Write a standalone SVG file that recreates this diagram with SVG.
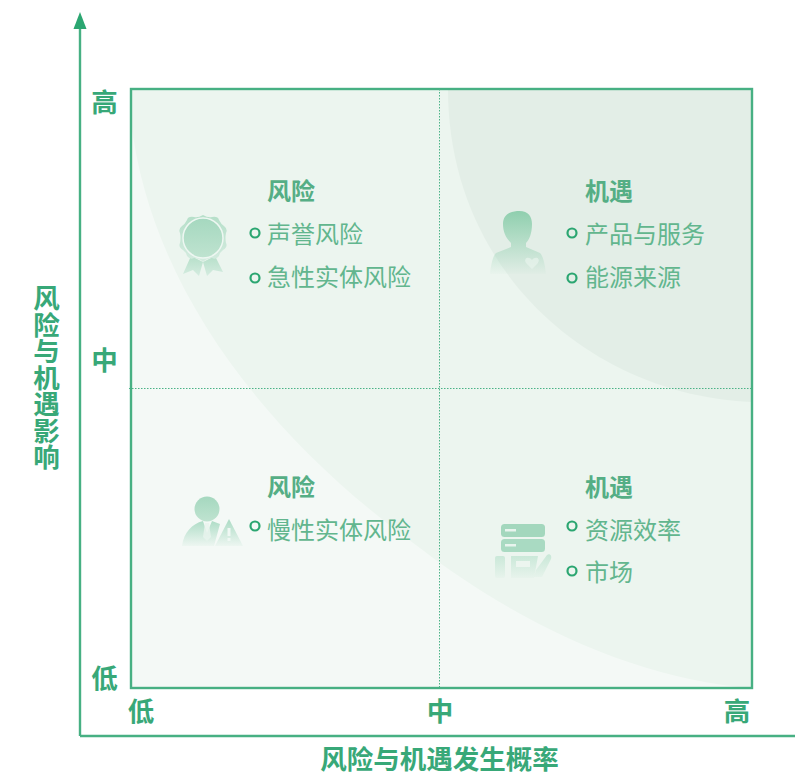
<svg xmlns="http://www.w3.org/2000/svg" width="795" height="777" viewBox="0 0 795 777">
<style>
text{font-family:"Noto Sans CJK SC","Noto Sans",sans-serif}
.ax{font-size:26.5px;font-weight:700;fill:#38a878;text-anchor:middle}
.h{font-size:24px;font-weight:700;fill:#55ae85}
.i{font-size:24px;fill:#62b68e}
.b{fill:none;stroke:#47b083;stroke-width:2.4}
.ln{fill:none;stroke:#47b083;stroke-width:2.4}
.d{fill:none;stroke:#4bb387;stroke-width:1;stroke-dasharray:1.5 1.5}
.o{fill:none;stroke:#2ba671;stroke-width:2.2}
</style>
<defs>
<linearGradient id="g" x1="0" y1="0" x2="0" y2="1"><stop offset="0" stop-color="#8fcfae"/><stop offset="1" stop-color="#8fcfae" stop-opacity="0.03"/></linearGradient>
<linearGradient id="p" gradientUnits="userSpaceOnUse" x1="0" y1="518" x2="0" y2="548"><stop offset="0" stop-color="#a8dac2"/><stop offset="1" stop-color="#a8dac2" stop-opacity="0.03"/></linearGradient>
<linearGradient id="f" gradientUnits="userSpaceOnUse" x1="0" y1="552" x2="0" y2="580"><stop offset="0" stop-color="#c5e6d5"/><stop offset="1" stop-color="#c5e6d5" stop-opacity="0.05"/></linearGradient>
<linearGradient id="m" x1="0" y1="0" x2="0" y2="1"><stop offset="0" stop-color="#a5d8bf"/><stop offset="1" stop-color="#bfe3d0"/></linearGradient>
<linearGradient id="r" x1="0" y1="0" x2="0" y2="1"><stop offset="0" stop-color="#b5dfc9"/><stop offset="1" stop-color="#d5ece0"/></linearGradient>
</defs>
<g id="matrix">
<rect x="131" y="89" width="621" height="599" fill="#f4f9f6"/>
<path d="M131 89H752V688C640 680 520 625 420 548C270 440 150 290 131 120Z" fill="#ecf5ef"/>
<path d="M448 89H752V402C590 395 448 270 448 89Z" fill="#e3eee7"/>
<rect x="131" y="89" width="621" height="599" class="b"/>
</g>
<g id="connectors">
<path d="M80 736V29" class="ln"/>
<path d="M80 12L86.500 29H73.500Z" fill="#2ba671"/>
<path d="M80 736H795" class="ln"/>
<path d="M439.500 89V688" class="d"/>
<path d="M129 388.500H752" class="d"/>
</g>
<g id="axis-y">
<text class="ax" x="104.500" y="112">高</text>
<text class="ax" x="104.500" y="370">中</text>
<text class="ax" x="104.500" y="688">低</text>
<text class="ax" x="46.500" y="285" style="writing-mode:vertical-rl;text-anchor:start">风险与机遇影响</text>
</g>
<g id="axis-x">
<text class="ax" x="141" y="721">低</text>
<text class="ax" x="440" y="721">中</text>
<text class="ax" x="737" y="721">高</text>
<text class="ax" x="439.500" y="769">风险与机遇发生概率</text>
</g>
<g id="q1">
<path d="M191 256L183 274L193 270L199 276L203 262ZM215 256L223 272L213 270L207 276L203 262Z" fill="url(#r)"/>
<path d="M203 215Q208 218 212 217Q218 216 219 220Q221 224 224 226Q228 229 226 233Q225 238 226 243Q228 247 223 250Q220 252 219 256Q216 260 212 258Q207 258 203 262Q199 258 194 258Q190 260 187 256Q186 252 183 250Q178 247 180 243Q181 238 180 233Q178 229 182 226Q185 224 187 220Q188 216 194 217Q198 218 203 215Z" fill="url(#r)"/>
<circle cx="203" cy="238" r="20" fill="url(#m)" stroke="#eef7f2" stroke-width="1.500"/>
<text class="h" x="267" y="200">风险</text>
<circle cx="255" cy="233" r="4.500" class="o"/>
<text class="i" x="267" y="243">声誉风险</text>
<circle cx="255" cy="278" r="4.500" class="o"/>
<text class="i" x="267" y="286">急性实体风险</text>
</g>
<g id="q2">
<path d="M517 211C528 210 532 216 532 224C532 234 529 240 526 243V247L540 253C543 256 545 264 546 274H490C491 264 493 256 496 253L511 247V243C506 238 503 232 503 224C503 216 508 212 517 211Z" fill="url(#g)"/>
<path d="M532 260C535 256 541 258 538 263L532 269L526 263C523 258 529 256 532 260Z" fill="#e8f3ed" opacity=".7"/>
<text class="h" x="585" y="200">机遇</text>
<circle cx="572" cy="233" r="4.500" class="o"/>
<text class="i" x="585" y="243">产品与服务</text>
<circle cx="572" cy="278" r="4.500" class="o"/>
<text class="i" x="585" y="286">能源来源</text>
</g>
<g id="q3">
<circle cx="207" cy="509" r="12.500" fill="url(#m)"/>
<path d="M182 546C184 532 192 524 203 521L207 533L212 521L220 524L214 546Z" fill="url(#p)"/>
<path d="M205 523H209L211 537L207 541L203 537Z" fill="#e8f4ee" opacity=".8"/>
<path d="M229 519L243 546H215Z" fill="url(#p)"/>
<rect x="227.500" y="528" width="3" height="8" fill="#f0f8f4"/>
<rect x="227.500" y="538" width="3" height="3" fill="#f0f8f4"/>
<text class="h" x="267" y="496">风险</text>
<circle cx="255" cy="526" r="4.500" class="o"/>
<text class="i" x="267" y="539">慢性实体风险</text>
</g>
<g id="q4">
<rect x="501" y="524" width="44" height="13" rx="3.500" fill="#a3d7bd"/>
<rect x="501" y="539" width="44" height="13" rx="3.500" fill="#a9dac2"/>
<rect x="505" y="529" width="11" height="2.500" fill="#e8f4ee"/>
<rect x="505" y="544" width="11" height="2.500" fill="#e8f4ee"/>
<rect x="495" y="556" width="10" height="22" rx="2" fill="url(#f)"/>
<path d="M511 556H538L534 578H511Z M516 561V567H530V561Z" fill="url(#f)" fill-rule="evenodd"/>
<path d="M536 570L547 555C550 553 552 556 551 559L542 577H534Z" fill="url(#f)"/>
<text class="h" x="585" y="496">机遇</text>
<circle cx="572" cy="526" r="4.500" class="o"/>
<text class="i" x="585" y="539">资源效率</text>
<circle cx="572" cy="571" r="4.500" class="o"/>
<text class="i" x="585" y="581">市场</text>
</g>
</svg>
